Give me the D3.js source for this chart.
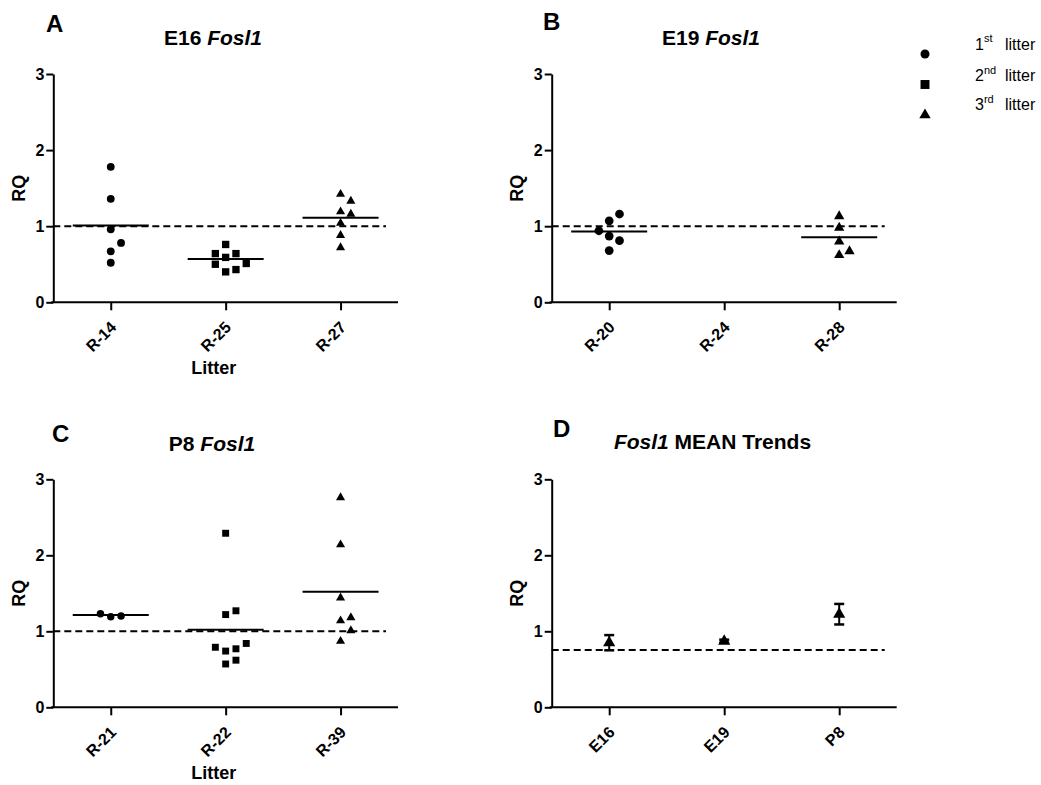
<!DOCTYPE html>
<html><head><meta charset="utf-8">
<script src="https://cdn.jsdelivr.net/npm/d3@7"></script>
<style>
body{margin:0;background:#fff}
text{font-family:"Liberation Sans",Arial,sans-serif}
</style>
</head><body>
<svg id="chart" width="1041" height="785"></svg>
<script>
// ---------------- DATA ----------------
const yTickValues = [0, 1, 2, 3];

const e16Litters = ["R-14", "R-25", "R-27"];
const e16R14 = [1.78, 1.36, 0.96, 0.78, 0.67, 0.52];
const e16R25 = [0.76, 0.64, 0.64, 0.59, 0.51, 0.50, 0.43, 0.40];
const e16R27 = [1.42, 1.33, 1.19, 1.16, 1.04, 0.88, 0.72];
const e16MeanLines = [1.01, 0.57, 1.11];
const e16Reference = 1;

const e19Litters = ["R-20", "R-24", "R-28"];
const e19R20 = [1.16, 1.07, 0.94, 0.87, 0.81, 0.68];
const e19R24 = [];
const e19R28 = [1.13, 0.98, 0.80, 0.67, 0.62];
const e19MeanLines = [0.93, null, 0.855];
const e19Reference = 1;

const p8Litters = ["R-21", "R-22", "R-39"];
const p8R21 = [1.23, 1.20, 1.19];
const p8R22 = [2.29, 1.27, 1.22, 0.84, 0.79, 0.77, 0.74, 0.62, 0.57];
const p8R39 = [2.76, 2.14, 1.44, 1.18, 1.14, 1.01, 0.87];
const p8MeanLines = [1.215, 1.02, 1.52];
const p8Reference = 1;

const trendStages = ["E16", "E19", "P8"];
const trendMeans = [0.85, 0.87, 1.225];
const trendSEM = [0.10, 0.02, 0.135];
const trendReference = 0.755;

const legendOrdinals = ["1", "2", "3"];
const legendSuffixes = ["st", "nd", "rd"];
const legendWord = "litter";

// ---------------- LAYOUT ----------------
const svg = d3.select("#chart");
svg.append("rect").attr("width", 1041).attr("height", 785).attr("fill", "#fff");

const shapeTypes = [d3.symbolCircle, d3.symbolSquare, d3.symbolTriangle];
const FONT = '"Liberation Sans", Arial, sans-serif';

const panels = [
  {letter: "A", lx: 46, ly: 32, tx: 213, ty: 45, title: [["E16 ", false], ["Fosl1", true]],
   cats: e16Litters, groups: [e16R14, e16R25, e16R27], means: e16MeanLines, ref: e16Reference,
   xl: 53.3, xr: 398, yt: 74, yb: 302.3, rqx: 25, xlabel: "Litter", msize: [48, 54, 36]},
  {letter: "B", lx: 543, ly: 29.5, tx: 711, ty: 45, title: [["E19 ", false], ["Fosl1", true]],
   cats: e19Litters, groups: [e19R20, e19R24, e19R28], means: e19MeanLines, ref: e19Reference,
   xl: 551.7, xr: 896.7, yt: 74, yb: 302.3, rqx: 523.3, xlabel: null, msize: [60, 54, 46]},
  {letter: "C", lx: 52, ly: 442, tx: 212, ty: 450.7, title: [["P8 ", false], ["Fosl1", true]],
   cats: p8Litters, groups: [p8R21, p8R22, p8R39], means: p8MeanLines, ref: p8Reference,
   xl: 53.3, xr: 398, yt: 479.3, yb: 707.3, rqx: 25, xlabel: "Litter", msize: [44, 48, 36]},
  {letter: "D", lx: 553, ly: 437, tx: 712.5, ty: 449, title: [["Fosl1", true], [" MEAN Trends", false]],
   cats: trendStages, groups: null, means: null, ref: trendReference,
   xl: 551.7, xr: 896.7, yt: 479.3, yb: 707.3, rqx: 523.3, xlabel: null, msize: [64, 64, 64]}
];

function swarm(values, yScale, slotW, thr) {
  const order = values.map((v, i) => i).sort((a, b) => values[a] - values[b]);
  const placed = [];
  const slots = new Array(values.length).fill(0);
  const pref = [0, 1, -1, 2, -2, 3, -3];
  for (const i of order) {
    const py = yScale(values[i]);
    for (const s of pref) {
      if (!placed.some(p => p.s === s && Math.abs(p.y - py) < thr)) {
        slots[i] = s; placed.push({s, y: py}); break;
      }
    }
  }
  return slots.map(s => s * slotW);
}

panels.forEach(p => {
  const g = svg.append("g");
  const x = d3.scalePoint().domain(p.cats).range([p.xl, p.xr]).padding(0.5);
  const y = d3.scaleLinear().domain([0, 3]).range([p.yb, p.yt]);

  // letter
  g.append("text").attr("x", p.lx).attr("y", p.ly).attr("font-size", 24)
    .attr("font-weight", "bold").text(p.letter);
  // title
  const t = g.append("text").attr("x", p.tx).attr("y", p.ty).attr("font-size", 21)
    .attr("font-weight", "bold").attr("text-anchor", "middle");
  p.title.forEach(([s, it]) => t.append("tspan").attr("font-style", it ? "italic" : "normal").text(s));

  // RQ label
  g.append("text").attr("transform", `translate(${p.rqx},${(p.yt + p.yb) / 2}) rotate(-90)`)
    .attr("text-anchor", "middle").attr("font-size", 18).attr("font-weight", "bold").text("RQ");

  // reference dashed line
  g.append("line").attr("x1", p.xl).attr("x2", p.xr - 12)
    .attr("y1", y(p.ref)).attr("y2", y(p.ref))
    .attr("stroke", "#000").attr("stroke-width", 2).attr("stroke-dasharray", "7,4");

  // y axis
  const ya = g.append("g").attr("transform", `translate(${p.xl},0)`)
    .call(d3.axisLeft(y).tickValues(yTickValues).tickFormat(d3.format("d")).tickSize(7).tickSizeOuter(0).tickPadding(2));
  // x axis
  const xa = g.append("g").attr("transform", `translate(0,${p.yb})`)
    .call(d3.axisBottom(x).tickSize(8).tickSizeOuter(0));
  xa.select(".domain").attr("d", `M${p.xl - 2},0H${p.xr}`);
  [ya, xa].forEach(a => {
    a.select(".domain").attr("stroke", "#000").attr("stroke-width", 2);
    a.selectAll(".tick line").attr("stroke", "#000").attr("stroke-width", 2);
    a.selectAll("text").attr("font-family", FONT).attr("font-size", 16)
      .attr("font-weight", "bold").attr("fill", "#000");
  });
  xa.selectAll(".tick text").attr("x", 0).attr("y", 0).attr("dy", 0)
    .attr("text-anchor", "end").attr("transform", "translate(6,26) rotate(-45)");

  if (p.xlabel) {
    g.append("text").attr("x", (p.xl + p.xr) / 2 - 12).attr("y", p.yb + 72)
      .attr("text-anchor", "middle").attr("font-size", 18).attr("font-weight", "bold").text(p.xlabel);
  }

  if (p.groups) {
    p.groups.forEach((vals, gi) => {
      const thr = [11, 10, 11][gi];
      const offs = swarm(vals, y, 10.3, thr);
      const sym = d3.symbol().type(shapeTypes[gi]).size(p.msize[gi]);
      g.selectAll(null).data(vals).join("path")
        .attr("d", sym)
        .attr("transform", (v, i) => `translate(${x(p.cats[gi]) + offs[i]},${y(v)})`)
        .attr("fill", "#000");
    });
    p.means.forEach((m, gi) => {
      if (m == null) return;
      const cx = x(p.cats[gi]);
      g.append("line").attr("x1", cx - 38).attr("x2", cx + 38)
        .attr("y1", y(m)).attr("y2", y(m)).attr("stroke", "#000").attr("stroke-width", 2);
    });
  } else {
    // mean trends with error bars
    const sym = d3.symbol().type(d3.symbolTriangle).size(p.msize[2]);
    trendStages.forEach((s, i) => {
      const cx = x(s);
      const top = y(trendMeans[i] + trendSEM[i]), bot = y(trendMeans[i] - trendSEM[i]);
      g.append("line").attr("x1", cx).attr("x2", cx).attr("y1", top).attr("y2", bot)
        .attr("stroke", "#000").attr("stroke-width", 2);
      [top, bot].forEach(yy => g.append("line").attr("x1", cx - 5).attr("x2", cx + 5)
        .attr("y1", yy).attr("y2", yy).attr("stroke", "#000").attr("stroke-width", 2.5));
      g.append("path").attr("d", sym).attr("transform", `translate(${cx},${y(trendMeans[i])})`).attr("fill", "#000");
    });
  }
});

// ---------------- LEGEND ----------------
const legendSizes = [64, 80, 56];
const legendSymY = [54, 84.5, 115];
const legendTextY = [49.5, 81, 110];
legendOrdinals.forEach((o, i) => {
  svg.append("path").attr("d", d3.symbol().type(shapeTypes[i]).size(legendSizes[i]))
    .attr("transform", `translate(925,${legendSymY[i]})`).attr("fill", "#000");
  const t = svg.append("text").attr("x", 975).attr("y", legendTextY[i]).attr("font-size", 16);
  t.append("tspan").text(o);
  t.append("tspan").attr("font-size", 11).attr("dy", -7.5).text(legendSuffixes[i]);
  svg.append("text").attr("x", 1005).attr("y", legendTextY[i]).attr("font-size", 16).text(legendWord);
});
</script>
</body></html>
